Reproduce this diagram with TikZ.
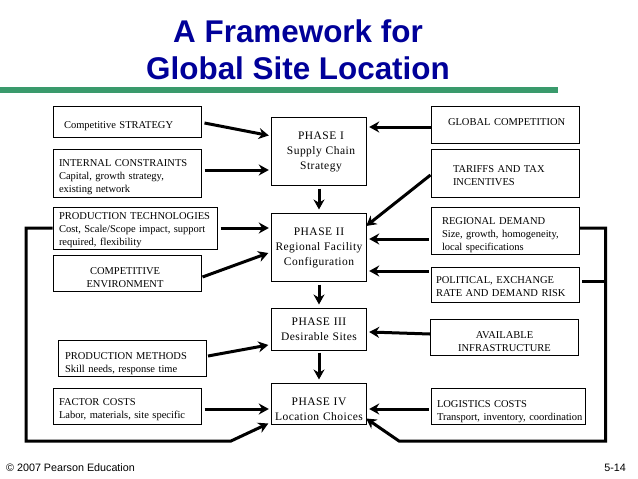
\documentclass[tikz,border=0pt]{standalone}
\usepackage{fontspec}
\usepackage{tikz}
\usetikzlibrary{arrows.meta}
\setmainfont{Liberation Serif}
\newfontfamily\headfont{Liberation Sans}
\newfontfamily\phasefont[LetterSpace=4]{Liberation Serif}
\definecolor{titleblue}{HTML}{000099}
\definecolor{rulegreen}{HTML}{3A9A6C}

\tikzset{
    box/.style n args={4}{draw, line width=1pt, inner sep=0pt, text width=#1pt,
        minimum width=#1pt, minimum height=#2pt, font=\fontsize{10.5}{13}\selectfont,
        text height=#4pt, text depth=0pt,
        execute at begin node={\raggedright\leftskip=#3pt\relax}},
    midbox/.style n args={4}{draw, line width=1pt, inner sep=0pt, text width=#1pt,
        minimum width=#1pt, minimum height=#2pt, font=\fontsize{10.5}{13}\selectfont,
        text height=#4pt, text depth=0pt,
        execute at begin node={\centering\leftskip=#3pt plus 1fil\relax}},
    phasebox/.style n args={4}{draw, line width=1pt, inner sep=0pt, text width=#1pt,
        minimum width=#1pt, minimum height=#2pt, font=\phasefont\fontsize{11.5}{15}\selectfont,
        text height=#4pt, text depth=0pt,
        execute at begin node={\centering\leftskip=#3pt plus 1fil\relax}},
    flow/.style={line width=3pt, -{Stealth[length=10pt,width=11pt]}},
    feedback/.style={line width=3pt, line join=miter},
    foot/.style={font=\headfont\fontsize{10.75}{13}\selectfont, inner sep=0pt}
}

\begin{document}
\begin{tikzpicture}[x=1pt,y=-1pt]

    \useasboundingbox (0,0) rectangle (638,479);

    \node[font=\headfont\bfseries\fontsize{31.4}{36.7}\selectfont, text=titleblue, align=center, inner sep=0pt] (title) at (298,50) {A Framework for\\Global Site Location};
    \fill[rulegreen] (0,87.3) rectangle (558,93);

    % left column
    \node[box={148}{31}{11}{14}] (strategy) at (127,121.5) {Competitive STRATEGY};
    \node[box={148}{48}{6}{0}, text depth=14pt] (internal) at (127,173) {INTERNAL CONSTRAINTS\\Capital, growth strategy,\\existing network};
    \node[box={164.5}{42}{6}{0}, text depth=18pt] (prodtech) at (135.25,228) {PRODUCTION TECHNOLOGIES\\Cost, Scale/Scope impact, support\\required, flexibility};
    \node[midbox={148}{36}{-4}{2}] (compenv) at (127,273) {COMPETITIVE\\ENVIRONMENT};
    \node[box={148}{35.5}{6.5}{1.5}] (methods) at (132.5,358.25) {PRODUCTION METHODS\\Skill needs, response time};
    \node[box={148}{36}{6}{0}, text depth=2pt] (factor) at (127,406) {FACTOR COSTS\\Labor, materials, site specific};

    % phases
    \node[phasebox={95.4}{68}{4}{0}, text depth=24pt] (phaseone) at (319,151) {PHASE I\\Supply Chain\\Strategy};
    \node[phasebox={95.4}{68}{0}{0}, text depth=24pt] (phasetwo) at (319,247) {PHASE II\\Regional Facility\\Configuration};
    \node[phasebox={95.4}{42}{0}{0}, text depth=8pt] (phasethree) at (319,329) {PHASE III\\Desirable Sites};
    \node[phasebox={95.4}{41}{0}{3}] (phasefour) at (319,403.5) {PHASE IV\\Location Choices};

    % right column
    \node[box={148}{37}{17}{1}] (global) at (505,124.5) {GLOBAL COMPETITION};
    \node[box={148}{48}{22}{0}, text depth=0.6pt] (tariffs) at (505,173) {TARIFFS AND TAX\\INCENTIVES};
    \node[box={148}{47}{11}{0}, text depth=13pt] (regional) at (505,230.5) {REGIONAL DEMAND\\Size, growth, homogeneity,\\local specifications};
    \node[box={148}{35}{5}{0}, text depth=3pt] (political) at (505,284.5) {POLITICAL, EXCHANGE\\RATE AND DEMAND RISK};
    \node[midbox={148.4}{36}{0}{2}] (available) at (504.5,337) {AVAILABLE\\INFRASTRUCTURE};
    \node[box={154}{36}{6}{2}] (logistics) at (508,406) {LOGISTICS COSTS\\Transport, inventory, coordination};

    \node[foot, anchor=base west] (copyright) at (6,471) {© 2007 Pearson Education};
    \node[foot, anchor=base east] (pagenum) at (626,471) {5-14};

    \draw[flow] ([shift={(3,1.5)}]strategy.east) -- ([shift={(-2,-15.5)}]phaseone.west);
    \draw[flow] ([shift={(3,-3)}]internal.east) -- ([shift={(-2,19)}]phaseone.west);
    \draw[flow] ([shift={(2.5,0)}]prodtech.east) -- ([shift={(-2,-19)}]phasetwo.west);
    \draw[flow] ([shift={(1,4)}]compenv.east) -- ([shift={(-2.5,6)}]phasetwo.west);
    \draw[flow] ([shift={(1,-2.25)}]methods.east) -- ([shift={(-2.5,16)}]phasethree.west);
    \draw[flow] ([shift={(3,3)}]factor.east) -- ([shift={(-2,5.5)}]phasefour.west);

    \draw[flow] ([shift={(0,2.5)}]global.west) -- ([shift={(2,-24)}]phaseone.east);
    \draw[flow] ([shift={(0,2)}]tariffs.west) -- ([shift={(-1,-21)}]phasetwo.east);
    \draw[flow] ([shift={(-2,8.5)}]regional.west) -- ([shift={(2,-8)}]phasetwo.east);
    \draw[flow] ([shift={(-2,-13.5)}]political.west) -- ([shift={(2,24)}]phasetwo.east);
    \draw[flow] ([shift={(0,-3)}]available.west) -- ([shift={(2,3)}]phasethree.east);
    \draw[flow] ([shift={(-2,3)}]logistics.west) -- ([shift={(2,5.5)}]phasefour.east);

    \draw[flow] ([shift={(0,3)}]phaseone.south) -- ([shift={(0,-3)}]phasetwo.north);
    \draw[flow] ([shift={(0,3)}]phasetwo.south) -- ([shift={(0,-3)}]phasethree.north);
    \draw[flow] ([shift={(0,2)}]phasethree.south) -- ([shift={(0,-3)}]phasefour.north);

    % feedback lines round the outside
    \coordinate (leftbottom) at (26,441);
    \coordinate (leftbend) at (231,441);
    \coordinate (rightbottom) at (605.5,441);
    \coordinate (rightbend) at (399,441);

    \draw[feedback, flow] (prodtech.west) -| (leftbottom) -- (leftbend) -- ([shift={(-2.5,-1)}]phasefour.south west);
    \draw[feedback, flow] ([shift={(0,-2.5)}]regional.east) -| (rightbottom) -- (rightbend) -- ([shift={(-1,-6)}]phasefour.south east);
    \draw[feedback] ([shift={(2.7,-2.8)}]political.east) -| (rightbottom);

\end{tikzpicture}
\end{document}
